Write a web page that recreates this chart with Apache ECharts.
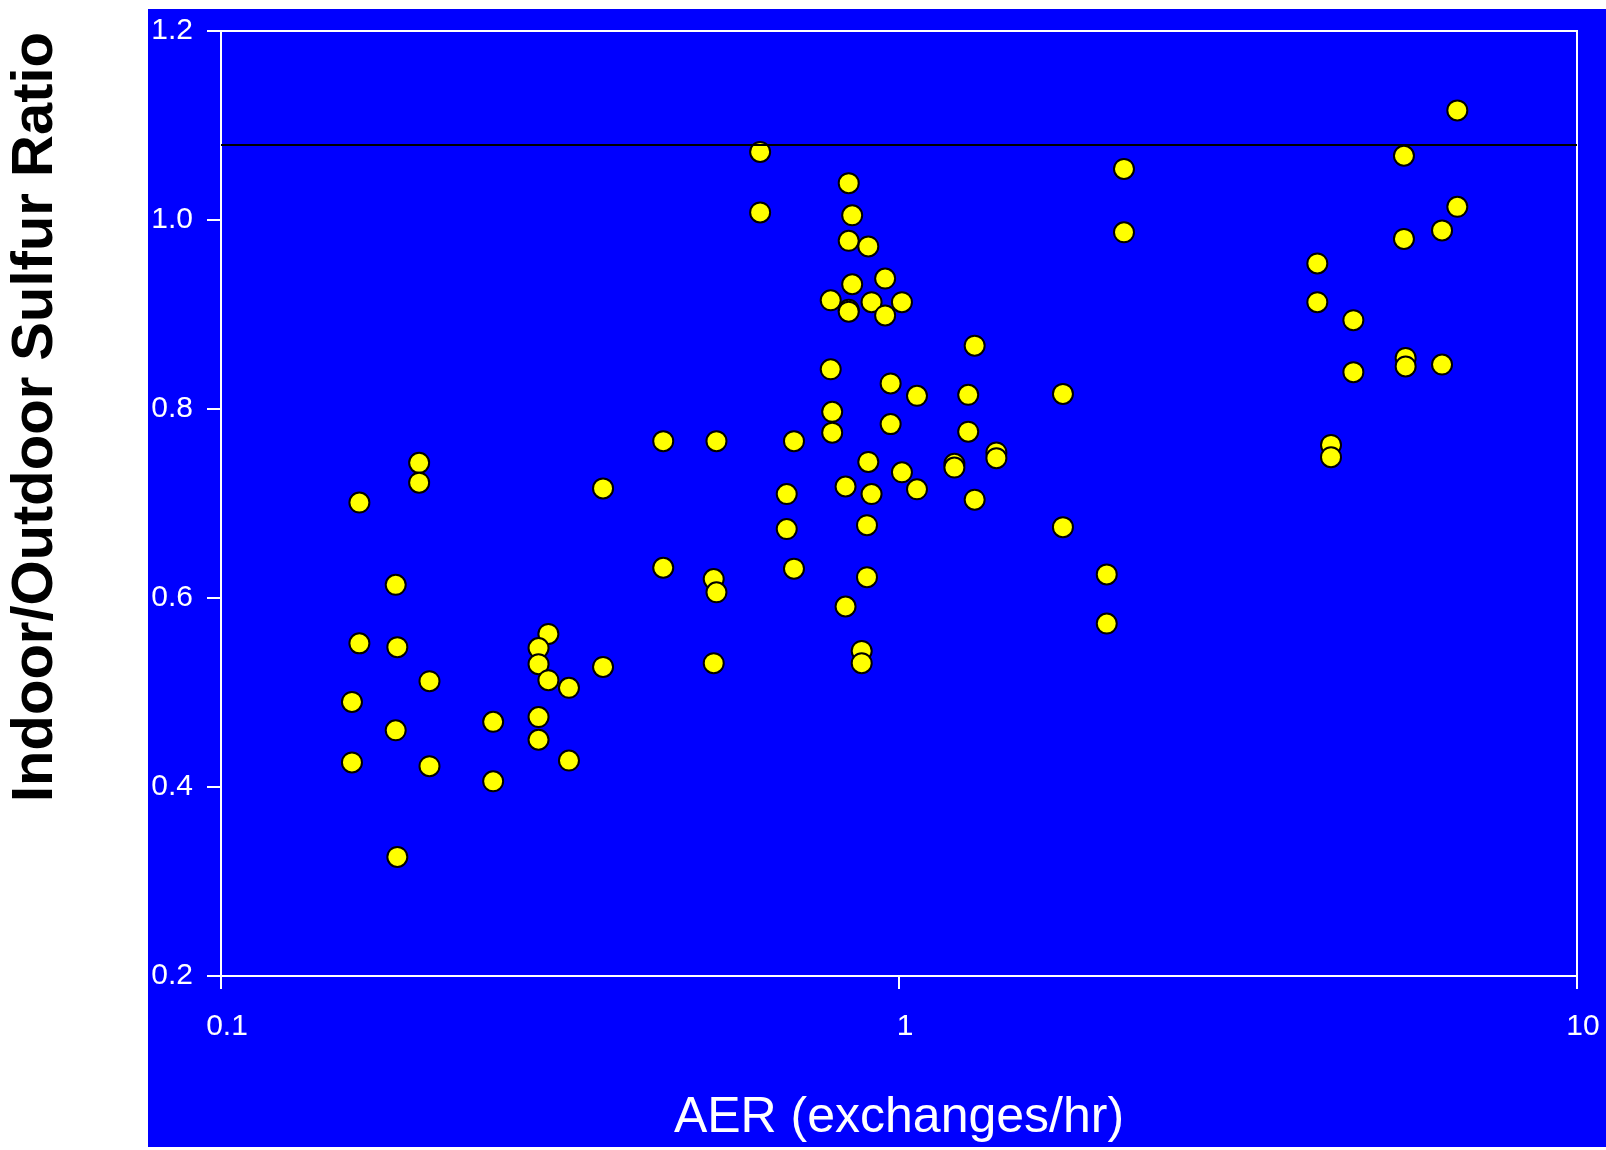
<!DOCTYPE html>
<html>
<head>
<meta charset="utf-8">
<script src="https://cdn.jsdelivr.net/npm/echarts@6/dist/echarts.min.js"></script>
<style>
html,body{margin:0;padding:0;background:#fff;}
#chart{width:1606px;height:1150px;}
</style>
</head>
<body>
<div id="chart"></div>
<script>
// AER (exchanges/hr) values
const aerValues = [
  0.196,0.196,0.160,0.366,0.181,0.160,0.182,0.203,0.156,0.181,0.156,0.203,
  0.252,0.252,0.304,0.294,0.294,0.304,0.326,0.294,0.294,0.326,0.366,0.182,
  0.624,0.624,0.843,0.853,0.843,0.901,0.954,0.853,0.793,0.843,0.843,0.911,
  1.010,0.954,0.793,0.972,1.063,0.797,0.797,0.972,0.449,0.538,0.700,0.901,
  1.010,1.063,0.834,0.911,0.683,0.683,0.897,0.449,0.700,0.897,0.533,0.538,
  0.834,0.881,0.881,0.533,2.147,2.147,1.293,1.265,1.745,1.265,1.392,1.392,
  1.207,1.207,1.293,1.745,2.025,2.025,
  6.66,5.556,6.66,6.323,5.556,4.140,4.140,4.679,5.588,5.588,6.323,4.679,4.337,4.337
];
// Indoor/Outdoor sulfur ratio values
const ratioValues = [
  0.743,0.722,0.701,0.716,0.614,0.552,0.548,0.512,0.490,0.460,0.426,0.422,
  0.469,0.406,0.562,0.547,0.530,0.513,0.505,0.474,0.450,0.428,0.527,0.326,
  1.072,1.008,1.039,1.005,0.978,0.972,0.938,0.932,0.915,0.905,0.903,0.913,
  0.913,0.899,0.842,0.827,0.814,0.797,0.775,0.784,0.766,0.766,0.766,0.744,
  0.733,0.715,0.718,0.710,0.710,0.673,0.677,0.632,0.631,0.622,0.620,0.606,
  0.591,0.544,0.531,0.531,1.054,0.987,0.867,0.815,0.816,0.776,0.754,0.748,
  0.742,0.738,0.704,0.675,0.625,0.573,
  1.116,1.068,1.014,0.989,0.980,0.954,0.913,0.894,0.854,0.845,0.847,0.839,0.762,0.749
];
const yRange = [0.2, 1.2];
const yStep = 0.2;
const xRange = [0.1, 10];
const referenceLevel = [1.08];
const xTitle = 'AER (exchanges/hr)';
const yTitle = 'Indoor/Outdoor Sulfur Ratio';

const points = aerValues.map((x, i) => [x, ratioValues[i]]);
const FONT = '"Liberation Sans", Arial, Helvetica, sans-serif';

const chart = echarts.init(document.getElementById('chart'), null, {renderer: 'canvas'});
chart.setOption({
  backgroundColor: '#ffffff',
  animation: false,
  graphic: [
    {type: 'rect', z: -100, silent: true,
     shape: {x: 148, y: 9, width: 1458, height: 1138},
     style: {fill: '#0000FF'}},
    {type: 'text', x: 36, y: 417, rotation: Math.PI / 2, silent: true,
     style: {text: yTitle, fill: '#000', font: 'bold 58px ' + FONT,
             textAlign: 'center', textVerticalAlign: 'middle'}}
  ],
  grid: {
    left: 221, right: 29, top: 31, bottom: 174,
    show: true, borderColor: '#ffffff', borderWidth: 2, backgroundColor: 'transparent'
  },
  xAxis: {
    type: 'log', logBase: 10, min: xRange[0], max: xRange[1],
    name: xTitle, nameLocation: 'middle', nameGap: 117,
    nameTextStyle: {color: '#fff', fontSize: 50, fontFamily: FONT},
    axisLine: {show: true, lineStyle: {color: '#fff', width: 2}},
    axisTick: {show: true, inside: false, length: 13, lineStyle: {color: '#fff', width: 2}},
    minorTick: {show: false},
    splitLine: {show: false},
    axisLabel: {color: '#fff', fontSize: 30, fontFamily: FONT, margin: 36,
                padding: [0, 0, 0, 12],
                formatter: v => String(+(+v).toPrecision(3))}
  },
  yAxis: {
    type: 'value', min: yRange[0], max: yRange[1], interval: yStep,
    axisLine: {show: true, lineStyle: {color: '#fff', width: 2}},
    axisTick: {show: true, inside: false, length: 14, lineStyle: {color: '#fff', width: 2}},
    splitLine: {show: false},
    axisLabel: {color: '#fff', fontSize: 30, fontFamily: FONT, margin: 28,
                formatter: v => (+v).toFixed(1)}
  },
  series: [{
    type: 'scatter',
    data: points,
    symbol: 'circle',
    symbolSize: 20,
    itemStyle: {color: '#FFFF00', borderColor: '#000', borderWidth: 2, opacity: 1},
    markLine: {
      silent: true, symbol: ['none', 'none'], label: {show: false},
      lineStyle: {color: '#000', width: 2, type: 'solid'},
      data: referenceLevel.map(v => ({yAxis: v}))
    }
  }]
});
</script>
</body>
</html>
